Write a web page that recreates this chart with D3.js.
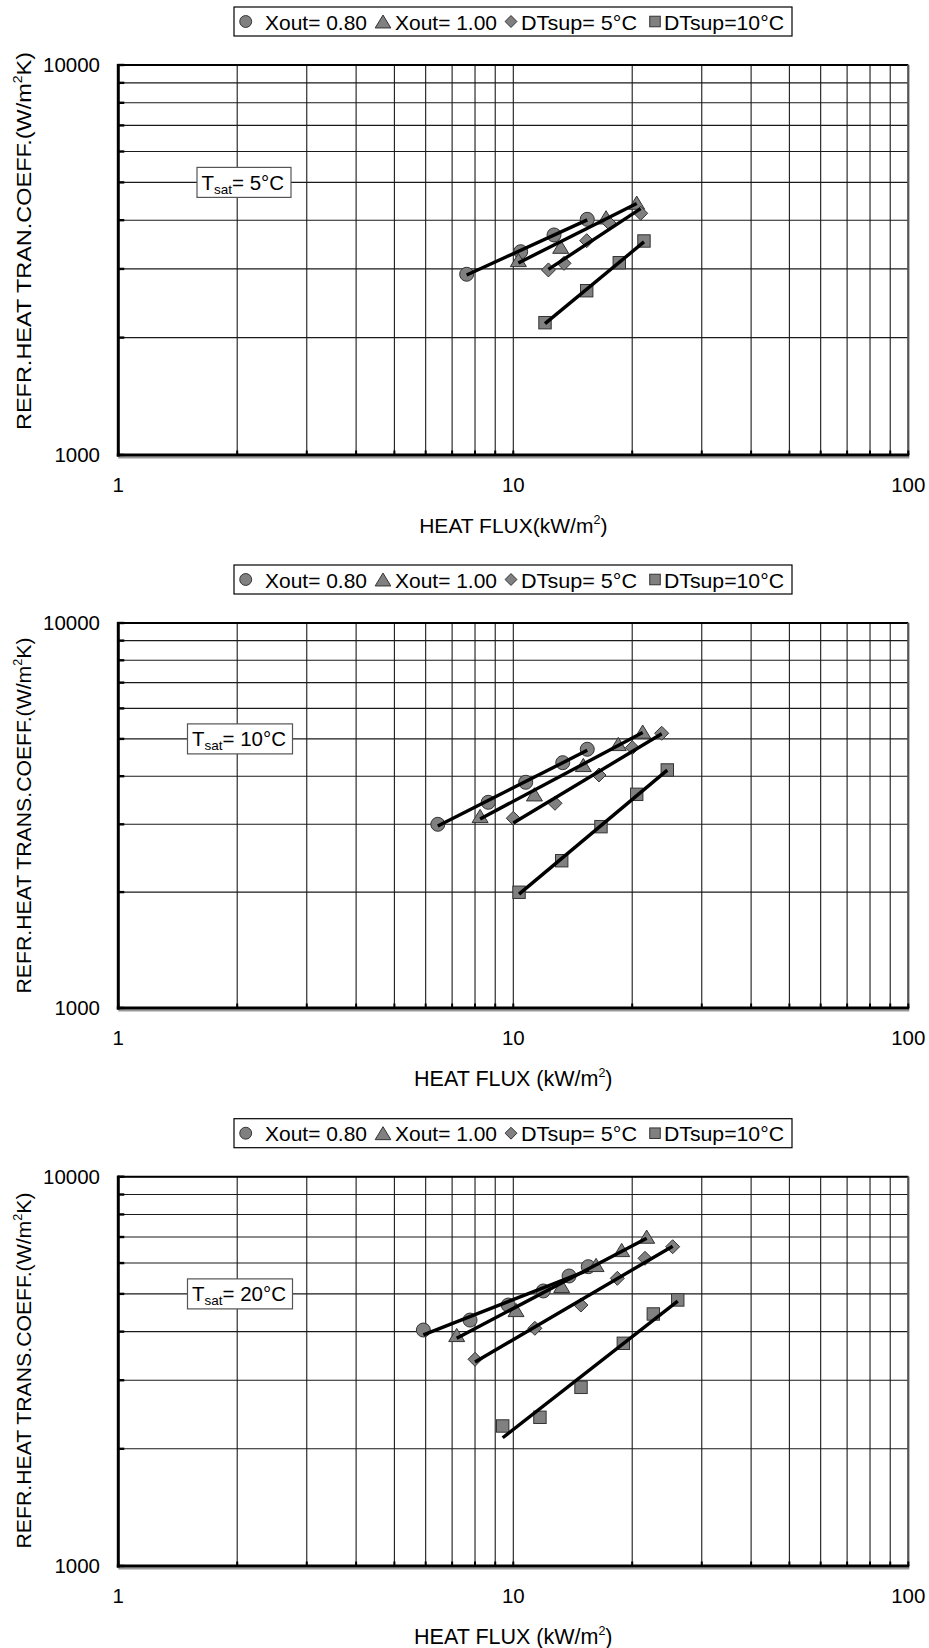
<!DOCTYPE html>
<html><head><meta charset="utf-8">
<script src="https://cdn.jsdelivr.net/npm/d3@7"></script>
<style>
body{margin:0;background:#fff}
svg{display:block}
text{font-family:"Liberation Sans",Arial,sans-serif;fill:#000}
</style>
</head><body>
<svg id="c" width="929" height="1648"></svg>
<script>
// ---------- data ----------
const seriesNames = ["Xout= 0.80", "Xout= 1.00", "DTsup= 5°C", "DTsup=10°C"];
const tsatLabels = ["= 5°C", "= 10°C", "= 20°C"];
const yTitles = ["REFR.HEAT TRAN.COEFF.(W/m", "REFR.HEAT TRANS.COEFF.(W/m", "REFR.HEAT TRANS.COEFF.(W/m"];
const xTitles = ["HEAT FLUX(kW/m", "HEAT FLUX (kW/m", "HEAT FLUX (kW/m"];
const xTickLabels = [1, 10, 100];
const yTickLabels = [1000, 10000];

// Tsat = 5°C
const t5_x080_q = [7.62, 10.44, 12.68, 15.39];
const t5_x080_h = [2907, 3321, 3666, 4021];
const t5_x100_q = [10.30, 13.18, 17.17, 20.53];
const t5_x100_h = [3162, 3420, 4068, 4436];
const t5_dt5_q = [12.27, 13.44, 15.34, 17.5, 21.01];
const t5_dt5_h = [2982, 3101, 3544, 3928, 4167];
const t5_dt10_q = [12.03, 15.34, 18.55, 21.42];
const t5_dt10_h = [2184, 2638, 3112, 3538];

// Tsat = 10°C
const t10_x080_q = [6.44, 8.64, 10.75, 13.34, 15.39];
const t10_x080_h = [3000, 3422, 3857, 4337, 4699];
const t10_x100_q = [8.24, 11.31, 15.04, 18.44, 21.26];
const t10_x100_h = [3153, 3589, 4278, 4850, 5222];
const t10_dt5_q = [10.0, 12.75, 16.48, 20.01, 23.75];
const t10_dt5_h = [3110, 3402, 4029, 4744, 5172];
const t10_dt10_q = [10.34, 13.26, 16.67, 20.53, 24.54];
const t10_dt10_h = [1998, 2413, 2958, 3589, 4152];

// Tsat = 20°C
const t20_x080_q = [5.92, 7.77, 9.71, 11.91, 13.84, 15.48];
const t20_x080_h = [4038, 4283, 4681, 5087, 5558, 5873];
const t20_x100_q = [7.19, 10.16, 13.26, 16.2, 18.81, 21.76];
const t20_x100_h = [3921, 4546, 5240, 5933, 6482, 7014];
const t20_dt5_q = [8.0, 11.34, 14.83, 18.34, 21.55, 25.32];
const t20_dt5_h = [3396, 4079, 4681, 5483, 6171, 6609];
const t20_dt10_q = [9.40, 11.68, 14.84, 18.99, 22.62, 26.08];
const t20_dt10_h = [2289, 2410, 2877, 3733, 4440, 4824];

const panelData = [
  [[t5_x080_q, t5_x080_h], [t5_x100_q, t5_x100_h], [t5_dt5_q, t5_dt5_h], [t5_dt10_q, t5_dt10_h]],
  [[t10_x080_q, t10_x080_h], [t10_x100_q, t10_x100_h], [t10_dt5_q, t10_dt5_h], [t10_dt10_q, t10_dt10_h]],
  [[t20_x080_q, t20_x080_h], [t20_x100_q, t20_x100_h], [t20_dt5_q, t20_dt5_h], [t20_dt10_q, t20_dt10_h]]
];

// ---------- layout ----------
const layout = [
  {top: 65, bottom: 455, yTitleC: 241, yTitleLen: 378, xFont: 21, tsatLeft: 197, tsatW: 94},
  {top: 623, bottom: 1008, yTitleC: 815.5, yTitleLen: 356, xFont: 21.5, tsatLeft: 187.5, tsatW: 105},
  {top: 1176.7, bottom: 1566, yTitleC: 1370.5, yTitleLen: 356, xFont: 21.5, tsatLeft: 187.5, tsatW: 105}
];
const L = 118.3, R = 908.3;
const FILL = "#808080", STROKE = "#333";

const svg = d3.select("#c");

function marker(g, type, cx, cy, s) {
  if (type === 0) {
    g.append("circle").attr("cx", cx).attr("cy", cy).attr("r", 7 * s)
      .attr("fill", FILL).attr("stroke", STROKE).attr("stroke-width", 1);
  } else if (type === 1) {
    const w = 8 * s, h = 6.6 * s;
    g.append("path").attr("d", `M${cx},${cy - h}L${cx + w},${cy + h}L${cx - w},${cy + h}Z`)
      .attr("fill", FILL).attr("stroke", STROKE).attr("stroke-width", 1);
  } else if (type === 2) {
    const r = 7 * s;
    g.append("path").attr("d", `M${cx},${cy - r}L${cx + r},${cy}L${cx},${cy + r}L${cx - r},${cy}Z`)
      .attr("fill", FILL).attr("stroke", STROKE).attr("stroke-width", 1);
  } else {
    const r = 6.2 * s;
    g.append("rect").attr("x", cx - r).attr("y", cy - r).attr("width", 2 * r).attr("height", 2 * r)
      .attr("fill", FILL).attr("stroke", STROKE).attr("stroke-width", 1);
  }
}

function powerFit(xs, ys) {
  const lx = xs.map(Math.log10), ly = ys.map(Math.log10);
  const mx = d3.mean(lx), my = d3.mean(ly);
  let sxy = 0, sxx = 0;
  lx.forEach((v, i) => { sxy += (v - mx) * (ly[i] - my); sxx += (v - mx) * (v - mx); });
  const b = sxy / sxx, a = my - b * mx;
  const x0 = d3.min(xs), x1 = d3.max(xs);
  return [[x0, Math.pow(10, a + b * Math.log10(x0))], [x1, Math.pow(10, a + b * Math.log10(x1))]];
}

layout.forEach((P, pi) => {
  const x = d3.scaleLog().domain([1, 100]).range([L, R]);
  const y = d3.scaleLog().domain([1000, 10000]).range([P.bottom, P.top]);
  const g = svg.append("g");

  // gridlines
  g.selectAll(".vg").data(x.ticks()).enter().append("line")
    .attr("x1", d => x(d)).attr("x2", d => x(d)).attr("y1", P.top).attr("y2", P.bottom)
    .attr("stroke", "#1a1a1a").attr("stroke-width", 1.1);
  g.selectAll(".hg").data(y.ticks()).enter().append("line")
    .attr("x1", L).attr("x2", R).attr("y1", d => y(d)).attr("y2", d => y(d))
    .attr("stroke", "#1a1a1a").attr("stroke-width", 1.1);

  // borders
  g.append("line").attr("x1", L).attr("x2", R).attr("y1", P.top).attr("y2", P.top)
    .attr("stroke", "#000").attr("stroke-width", 2);
  g.append("line").attr("x1", R).attr("x2", R).attr("y1", P.top).attr("y2", P.bottom)
    .attr("stroke", "#555").attr("stroke-width", 2.2);

  // axis ticks
  g.selectAll(".yt").data(y.ticks()).enter().append("line")
    .attr("x1", L - 1).attr("x2", L + 6).attr("y1", d => y(d)).attr("y2", d => y(d))
    .attr("stroke", "#000").attr("stroke-width", 2.4);
  g.selectAll(".xt").data(x.ticks()).enter().append("line")
    .attr("x1", d => x(d)).attr("x2", d => x(d)).attr("y1", P.bottom).attr("y2", P.bottom - 4.5)
    .attr("stroke", "#000").attr("stroke-width", 2);

  // axes
  g.append("line").attr("x1", L).attr("x2", R + 1).attr("y1", P.bottom + 2.6).attr("y2", P.bottom + 2.6)
    .attr("stroke", "#9a9a9a").attr("stroke-width", 2);
  g.append("line").attr("x1", L - 1.5).attr("x2", R + 1).attr("y1", P.bottom).attr("y2", P.bottom)
    .attr("stroke", "#000").attr("stroke-width", 3);
  g.append("line").attr("x1", L).attr("x2", L).attr("y1", P.top - 1).attr("y2", P.bottom + 1.5)
    .attr("stroke", "#000").attr("stroke-width", 3);

  // tick labels
  g.selectAll(".yl").data(yTickLabels).enter().append("text")
    .attr("x", 100).attr("y", d => y(d)).attr("dy", "0.36em").attr("text-anchor", "end")
    .attr("font-size", 20.5).attr("textLength", d => String(d).length * 11.4)
    .attr("lengthAdjust", "spacingAndGlyphs").text(d => d);
  g.selectAll(".xl").data(xTickLabels).enter().append("text")
    .attr("x", d => x(d)).attr("y", P.bottom + 30).attr("dy", "0.36em").attr("text-anchor", "middle")
    .attr("font-size", 20.5).text(d => d);

  // x title
  const xt = g.append("text").attr("x", (L + R) / 2).attr("y", P.bottom + 78).attr("text-anchor", "middle")
    .attr("font-size", P.xFont);
  xt.append("tspan").text(xTitles[pi]);
  xt.append("tspan").attr("font-size", 12.5).attr("dy", -9).text("2");
  xt.append("tspan").attr("dy", 9).text(")");

  // y title
  const yt = g.append("text").attr("transform", `translate(31,${P.yTitleC}) rotate(-90)`)
    .attr("text-anchor", "middle").attr("font-size", 21)
    .attr("textLength", P.yTitleLen).attr("lengthAdjust", "spacingAndGlyphs");
  yt.append("tspan").text(yTitles[pi]);
  yt.append("tspan").attr("font-size", 12.5).attr("dy", -9).text("2");
  yt.append("tspan").attr("dy", 9).text("K)");

  // Tsat box
  const cy5000 = y(5000);
  g.append("rect").attr("x", P.tsatLeft).attr("y", cy5000 - 15).attr("width", P.tsatW).attr("height", 30)
    .attr("fill", "#fff").attr("stroke", "#555").attr("stroke-width", 1.2);
  const tt = g.append("text").attr("x", P.tsatLeft + 4.5).attr("y", cy5000 + 7.5).attr("font-size", 20.5);
  tt.append("tspan").text("T");
  tt.append("tspan").attr("font-size", 13.5).attr("dy", 4).text("sat");
  tt.append("tspan").attr("dy", -4).text(tsatLabels[pi]);

  // legend
  const lt = P.top - 58, lx = 234;
  g.append("rect").attr("x", lx).attr("y", lt).attr("width", 558).attr("height", 29)
    .attr("fill", "#fff").attr("stroke", "#000").attr("stroke-width", 1.2);
  const lg = g.append("g");
  const mPos = [11.7, 149, 277, 421];
  const tPos = [31, 161, 287, 430];
  const tLen = [102, 102, 116, 120];
  seriesNames.forEach((n, i) => {
    marker(lg, i, lx + mPos[i], lt + 14.5, i === 1 ? 0.98 : 0.85);
    lg.append("text").attr("x", lx + tPos[i]).attr("y", lt + 22.5).attr("font-size", 21)
      .attr("textLength", tLen[i]).attr("lengthAdjust", "spacingAndGlyphs").text(n);
  });

  // markers
  const series = panelData[pi];
  series.forEach((s, si) => {
    const mg = g.append("g");
    s[0].forEach((q, k) => marker(mg, si, x(q), y(s[1][k]), 1));
  });
  // trend lines
  const line = d3.line().x(d => x(d[0])).y(d => y(d[1]));
  series.forEach(s => {
    g.append("path").attr("d", line(powerFit(s[0], s[1])))
      .attr("fill", "none").attr("stroke", "#000").attr("stroke-width", 3.4);
  });
});
</script>
</body></html>
